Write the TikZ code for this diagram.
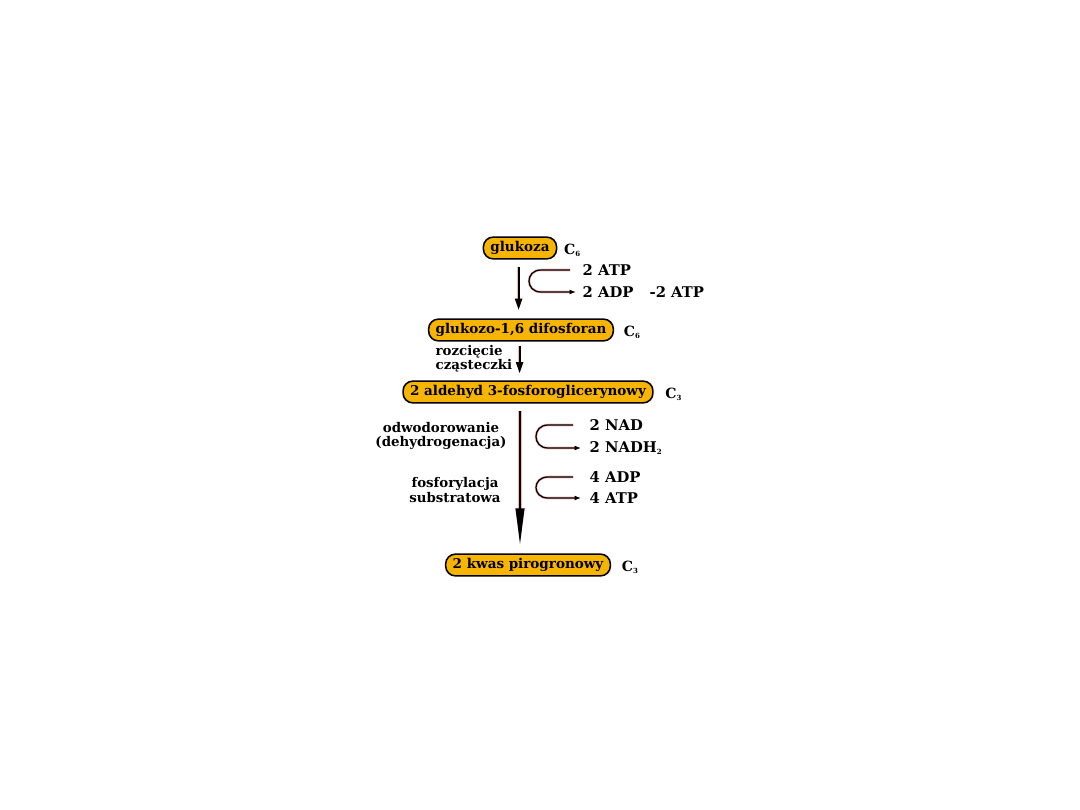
\documentclass[tikz,border=0pt]{standalone}
\usepackage{fontspec}
\setmainfont{DejaVu Serif}
\usepackage{xcolor}
\usepackage{tikz}
\usetikzlibrary{calc,arrows.meta}
\definecolor{glyOrange}{HTML}{F7B500}
\definecolor{glyHalo}{HTML}{F2B3B3}
\newcommand{\carb}[1]{C\textsubscript{\fontsize{5}{5}\selectfont #1}}
\tikzset{
  metbox/.style={rectangle, rounded corners=7pt, draw=black, fill=glyOrange, line width=1.1pt, font=\bfseries\fontsize{9.6}{10}\selectfont, minimum height=15.5pt, inner xsep=5pt, inner ysep=1pt},
  carbonlabel/.style={font=\bfseries\fontsize{10}{10}\selectfont, anchor=west, inner sep=1pt},
  cofactor/.style={font=\bfseries\fontsize{10.5}{11}\selectfont, anchor=west, inner sep=1pt},
  sidelabel/.style={font=\bfseries\fontsize{9.5}{10}\selectfont, inner sep=1pt},
  steparrow/.style={-{Triangle[length=8pt,width=5pt]}, line width=1.4pt, draw=black, preaction={draw=glyHalo, line width=2.6pt}},
  longarrow/.style={-{Triangle[length=26pt,width=6pt]}, line width=1.6pt, draw=black, preaction={draw=glyHalo, line width=2.8pt}},
  cyclearrow/.style={-{Latex[length=1.6mm,width=1.2mm]}, line width=0.9pt, draw=black, preaction={draw=glyHalo, line width=1.8pt}},
}

\begin{document}
\begin{tikzpicture}[x=0.025cm,y=-0.025cm]
  \useasboundingbox (0,0) rectangle (1080,810);
  % metabolites
  \node[metbox] (glu) at (520,248) {glukoza};
  \node[metbox] (gdf) at (521,330) {glukozo-1,6 difosforan};
  \node[metbox] (ald) at (528,392) {2 aldehyd 3-fosforoglicerynowy};
  \node[metbox] (kwas) at (528,565) {2 kwas pirogronowy};
  \node[carbonlabel] (c1) at ($(glu.east)+(5,2)$) {\carb{6}};
  \node[carbonlabel] (c2) at ($(gdf.east)+(8,2)$) {\carb{6}};
  \node[carbonlabel] (c3) at ($(ald.east)+(10,2)$) {\carb{3}};
  \node[carbonlabel] (c4) at ($(kwas.east)+(9,2)$) {\carb{3}};
  % cofactors
  \node[cofactor] (atp) at (581,270) {2 ATP};
  \node[cofactor] (adp) at (581,292) {2 ADP};
  \node[cofactor] (bilans) at (648,292) {-2 ATP};
  \node[cofactor] (nad) at (588,425) {2 NAD};
  \node[cofactor] (nadh) at (588,448) {2 NADH\textsubscript{\fontsize{5}{5}\selectfont 2}};
  \node[cofactor] (adp4) at (588,477) {4 ADP};
  \node[cofactor] (atp4) at (588,498) {4 ATP};
  % side labels
  \node[sidelabel, align=left, anchor=east] (rozc) at (514,359) {rozcięcie\\cząsteczki};
  \node[sidelabel, align=center] (odw) at (441,436) {odwodorowanie\\(dehydrogenacja)};
  \node[sidelabel, align=center] (fosf) at (455,490) {fosforylacja\\substratowa};
  % main arrows
  \draw[steparrow, shorten <=5pt, shorten >=6pt] ([xshift=-1pt]glu.south) -- ([xshift=-1pt]glu.south |- gdf.north);
  \draw[steparrow, shorten <=3pt, shorten >=5pt] ([xshift=-1pt]gdf.south) -- ([xshift=-1pt]gdf.south |- ald.north);
  \draw[longarrow, shorten <=5pt, shorten >=6pt] (glu.south |- ald.south) -- (glu.south |- kwas.north);
  % cofactor loops
  \draw[cyclearrow] ($(atp.west)+(-11,0)$) -- ($(atp.west)+(-40,0)$) .. controls ($(atp.west)+(-56,0)$) and ($(adp.west)+(-56,0)$) .. ($(adp.west)+(-40,0)$) -- ($(adp.west)+(-5,0)$);
  \draw[cyclearrow] ($(nad.west)+(-15,0)$) -- ($(nad.west)+(-40,0)$) .. controls ($(nad.west)+(-56,0)$) and ($(nadh.west)+(-56,0)$) .. ($(nadh.west)+(-40,0)$) -- ($(nadh.west)+(-7,0)$);
  \draw[cyclearrow] ($(adp4.west)+(-15,0)$) -- ($(adp4.west)+(-40,0)$) .. controls ($(adp4.west)+(-56,0)$) and ($(atp4.west)+(-56,0)$) .. ($(atp4.west)+(-40,0)$) -- ($(atp4.west)+(-7,0)$);
\end{tikzpicture}
\end{document}
